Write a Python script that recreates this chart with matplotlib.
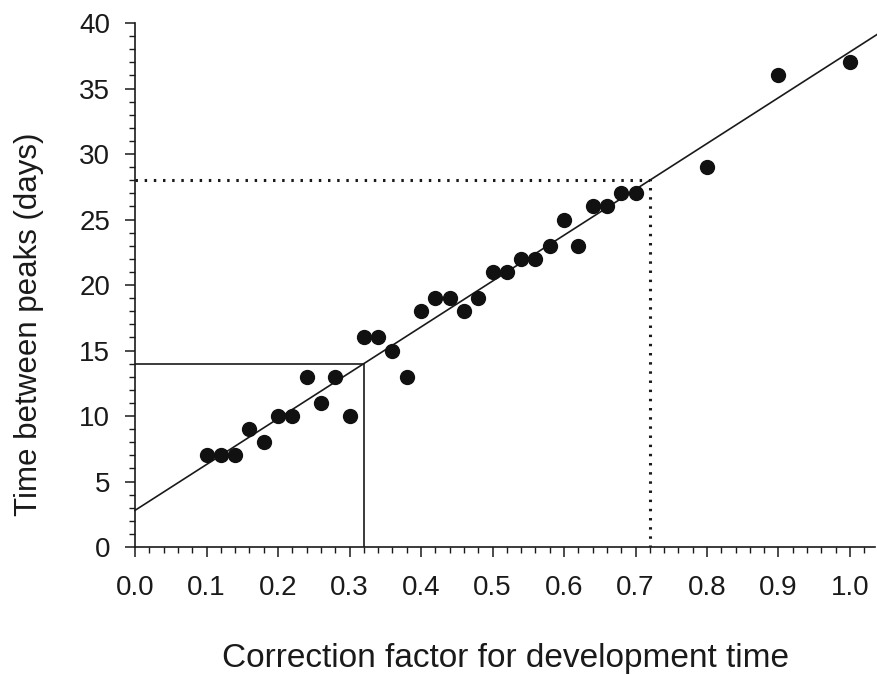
"""Development time correction vs. time between peaks."""
import matplotlib
matplotlib.use('Agg')
import matplotlib.pyplot as plt
import matplotlib.ticker as mticker
import numpy as np

plt.rcParams['font.family'] = ['Liberation Sans', 'DejaVu Sans']

corr = [0.10, 0.12, 0.14, 0.16, 0.18, 0.20, 0.22, 0.24, 0.26, 0.28,
        0.30, 0.32, 0.34, 0.36, 0.38, 0.40, 0.42, 0.44, 0.46, 0.48,
        0.50, 0.52, 0.54, 0.56, 0.58, 0.60, 0.62, 0.64, 0.66, 0.68,
        0.70, 0.80, 0.90, 1.00]
days = [7, 7, 7, 9, 8, 10, 10, 13, 11, 13,
        10, 16, 16, 15, 13, 18, 19, 19, 18, 19,
        21, 21, 22, 22, 23, 25, 23, 26, 26, 27,
        27, 29, 36, 37]

# fitted line: days = a + b * corr
fit_a = 2.8
fit_b = 35.0

# read-off guides
lo_x, lo_y = 0.32, 14
hi_x, hi_y = 0.72, 28

x_max = 1.035

fig = plt.figure(figsize=(8.78, 6.75), dpi=100)
ax = fig.add_axes([0.1538, 0.1896, 0.9966 - 0.1538, 0.7763])

xs = np.array([0.0, 1.2])
ax.plot(xs, fit_a + fit_b * xs, color='#1a1a1a', lw=1.2, clip_on=False)

ax.plot([0, lo_x, lo_x], [lo_y, lo_y, 0], color='#1a1a1a', lw=1.2)
ax.plot([0, hi_x, hi_x], [hi_y, hi_y, 0], color='#1a1a1a', lw=2.2,
        linestyle=(0, (0.8, 2.2)))

ax.plot(corr, days, 'o', color='#111111', ms=10, zorder=3)

ax.set_xlim(0, x_max)
ax.set_ylim(0, 40)
ax.spines['top'].set_visible(False)
ax.spines['right'].set_visible(False)
for s in ('left', 'bottom'):
    ax.spines[s].set_linewidth(1.2)
    ax.spines[s].set_color('#1a1a1a')

ax.xaxis.set_major_locator(mticker.MultipleLocator(0.1))
ax.xaxis.set_minor_locator(mticker.MultipleLocator(0.02))
ax.yaxis.set_major_locator(mticker.MultipleLocator(5))
ax.yaxis.set_minor_locator(mticker.MultipleLocator(1))
ax.xaxis.set_major_formatter(mticker.FormatStrFormatter('%.1f'))

ax.tick_params(which='major', length=7, width=1.1, labelsize=20,
               color='#1a1a1a', labelcolor='#1a1a1a')
ax.tick_params(axis='x', which='major', pad=13)
ax.tick_params(axis='y', which='major', pad=11)
ax.tick_params(which='minor', length=4, width=1.0, color='#1a1a1a')

ax.set_ylabel('Time between peaks (days)', fontsize=22.5, color='#1a1a1a')
ax.yaxis.set_label_coords(-0.123, 0.425)
ax.set_xlabel('Correction factor for development time', fontsize=24,
              labelpad=30.5, color='#1a1a1a')

fig.savefig('out.png', dpi=100)
